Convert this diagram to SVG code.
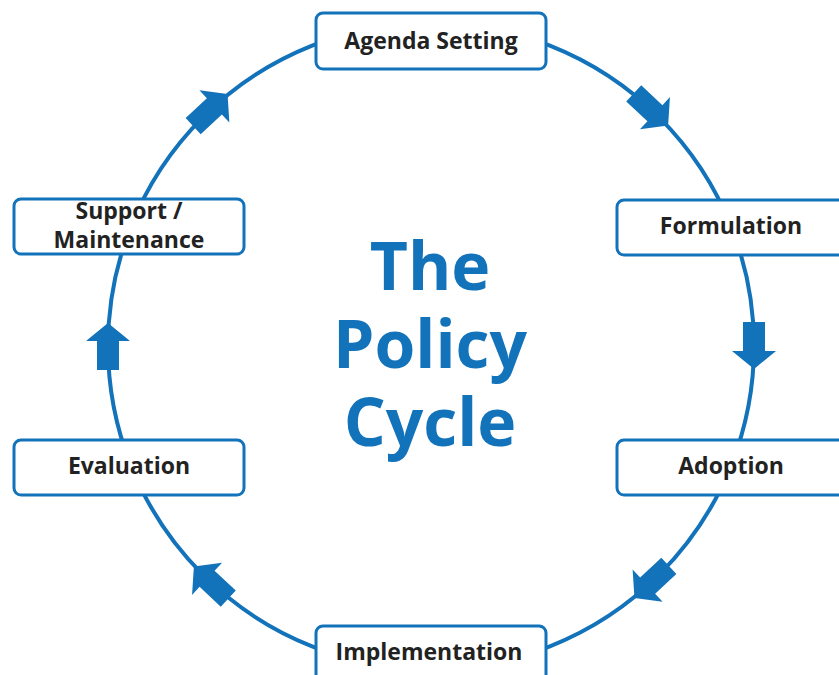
<svg xmlns="http://www.w3.org/2000/svg" width="839" height="675" viewBox="0 0 839 675">
<defs>
<style>
.box{fill:#fff;stroke:#1272BA;stroke-width:3}
.lbl{font-family:"Open Sans","Liberation Sans",sans-serif;font-weight:700;font-size:23px;fill:#222;text-anchor:middle}
.title{font-family:"Open Sans","Liberation Sans",sans-serif;font-weight:700;font-size:66px;fill:#1272BA;text-anchor:middle}
.arr{fill:#1272BA}
</style>
<polygon id="ah" points="-24,-11 5,-11 5,-22 23,0 5,22 5,11 -24,11"/>
</defs>
<rect width="839" height="675" fill="#fff"/>
<g id="connectors">
<circle cx="431" cy="346" r="323" fill="none" stroke="#1272BA" stroke-width="4"/>
<use href="#ah" class="arr" transform="translate(431,346) rotate(-47) translate(323,0) rotate(90)"/>
<use href="#ah" class="arr" transform="translate(431,346) rotate(0) translate(323,0) rotate(90)"/>
<use href="#ah" class="arr" transform="translate(431,346) rotate(47) translate(323,0) rotate(90)"/>
<use href="#ah" class="arr" transform="translate(431,346) rotate(133) translate(323,0) rotate(90)"/>
<use href="#ah" class="arr" transform="translate(431,346) rotate(180) translate(323,0) rotate(90)"/>
<use href="#ah" class="arr" transform="translate(431,346) rotate(-133) translate(323,0) rotate(90)"/>
</g>
<g id="agenda"><rect class="box" x="316" y="13" width="230" height="56" rx="7"/><text class="lbl" x="431" y="49">Agenda Setting</text></g>
<g id="formulation"><rect class="box" x="617" y="200" width="230" height="55" rx="7"/><text class="lbl" x="731" y="234">Formulation</text></g>
<g id="adoption"><rect class="box" x="617" y="440" width="230" height="55" rx="7"/><text class="lbl" x="731" y="474">Adoption</text></g>
<g id="implementation"><rect class="box" x="316" y="626" width="230" height="56" rx="7"/><text class="lbl" x="429" y="660">Implementation</text></g>
<g id="evaluation"><rect class="box" x="14" y="440" width="230" height="55" rx="7"/><text class="lbl" x="129" y="474">Evaluation</text></g>
<g id="support"><rect class="box" x="14" y="199" width="230" height="55" rx="7"/><text class="lbl" x="129" y="219"><tspan x="129">Support /</tspan><tspan x="129" dy="29">Maintenance</tspan></text></g>
<g id="title"><text class="title" x="430" y="290"><tspan x="430">The</tspan><tspan x="430" dy="78">Policy</tspan><tspan x="430" dy="78">Cycle</tspan></text></g>
</svg>
